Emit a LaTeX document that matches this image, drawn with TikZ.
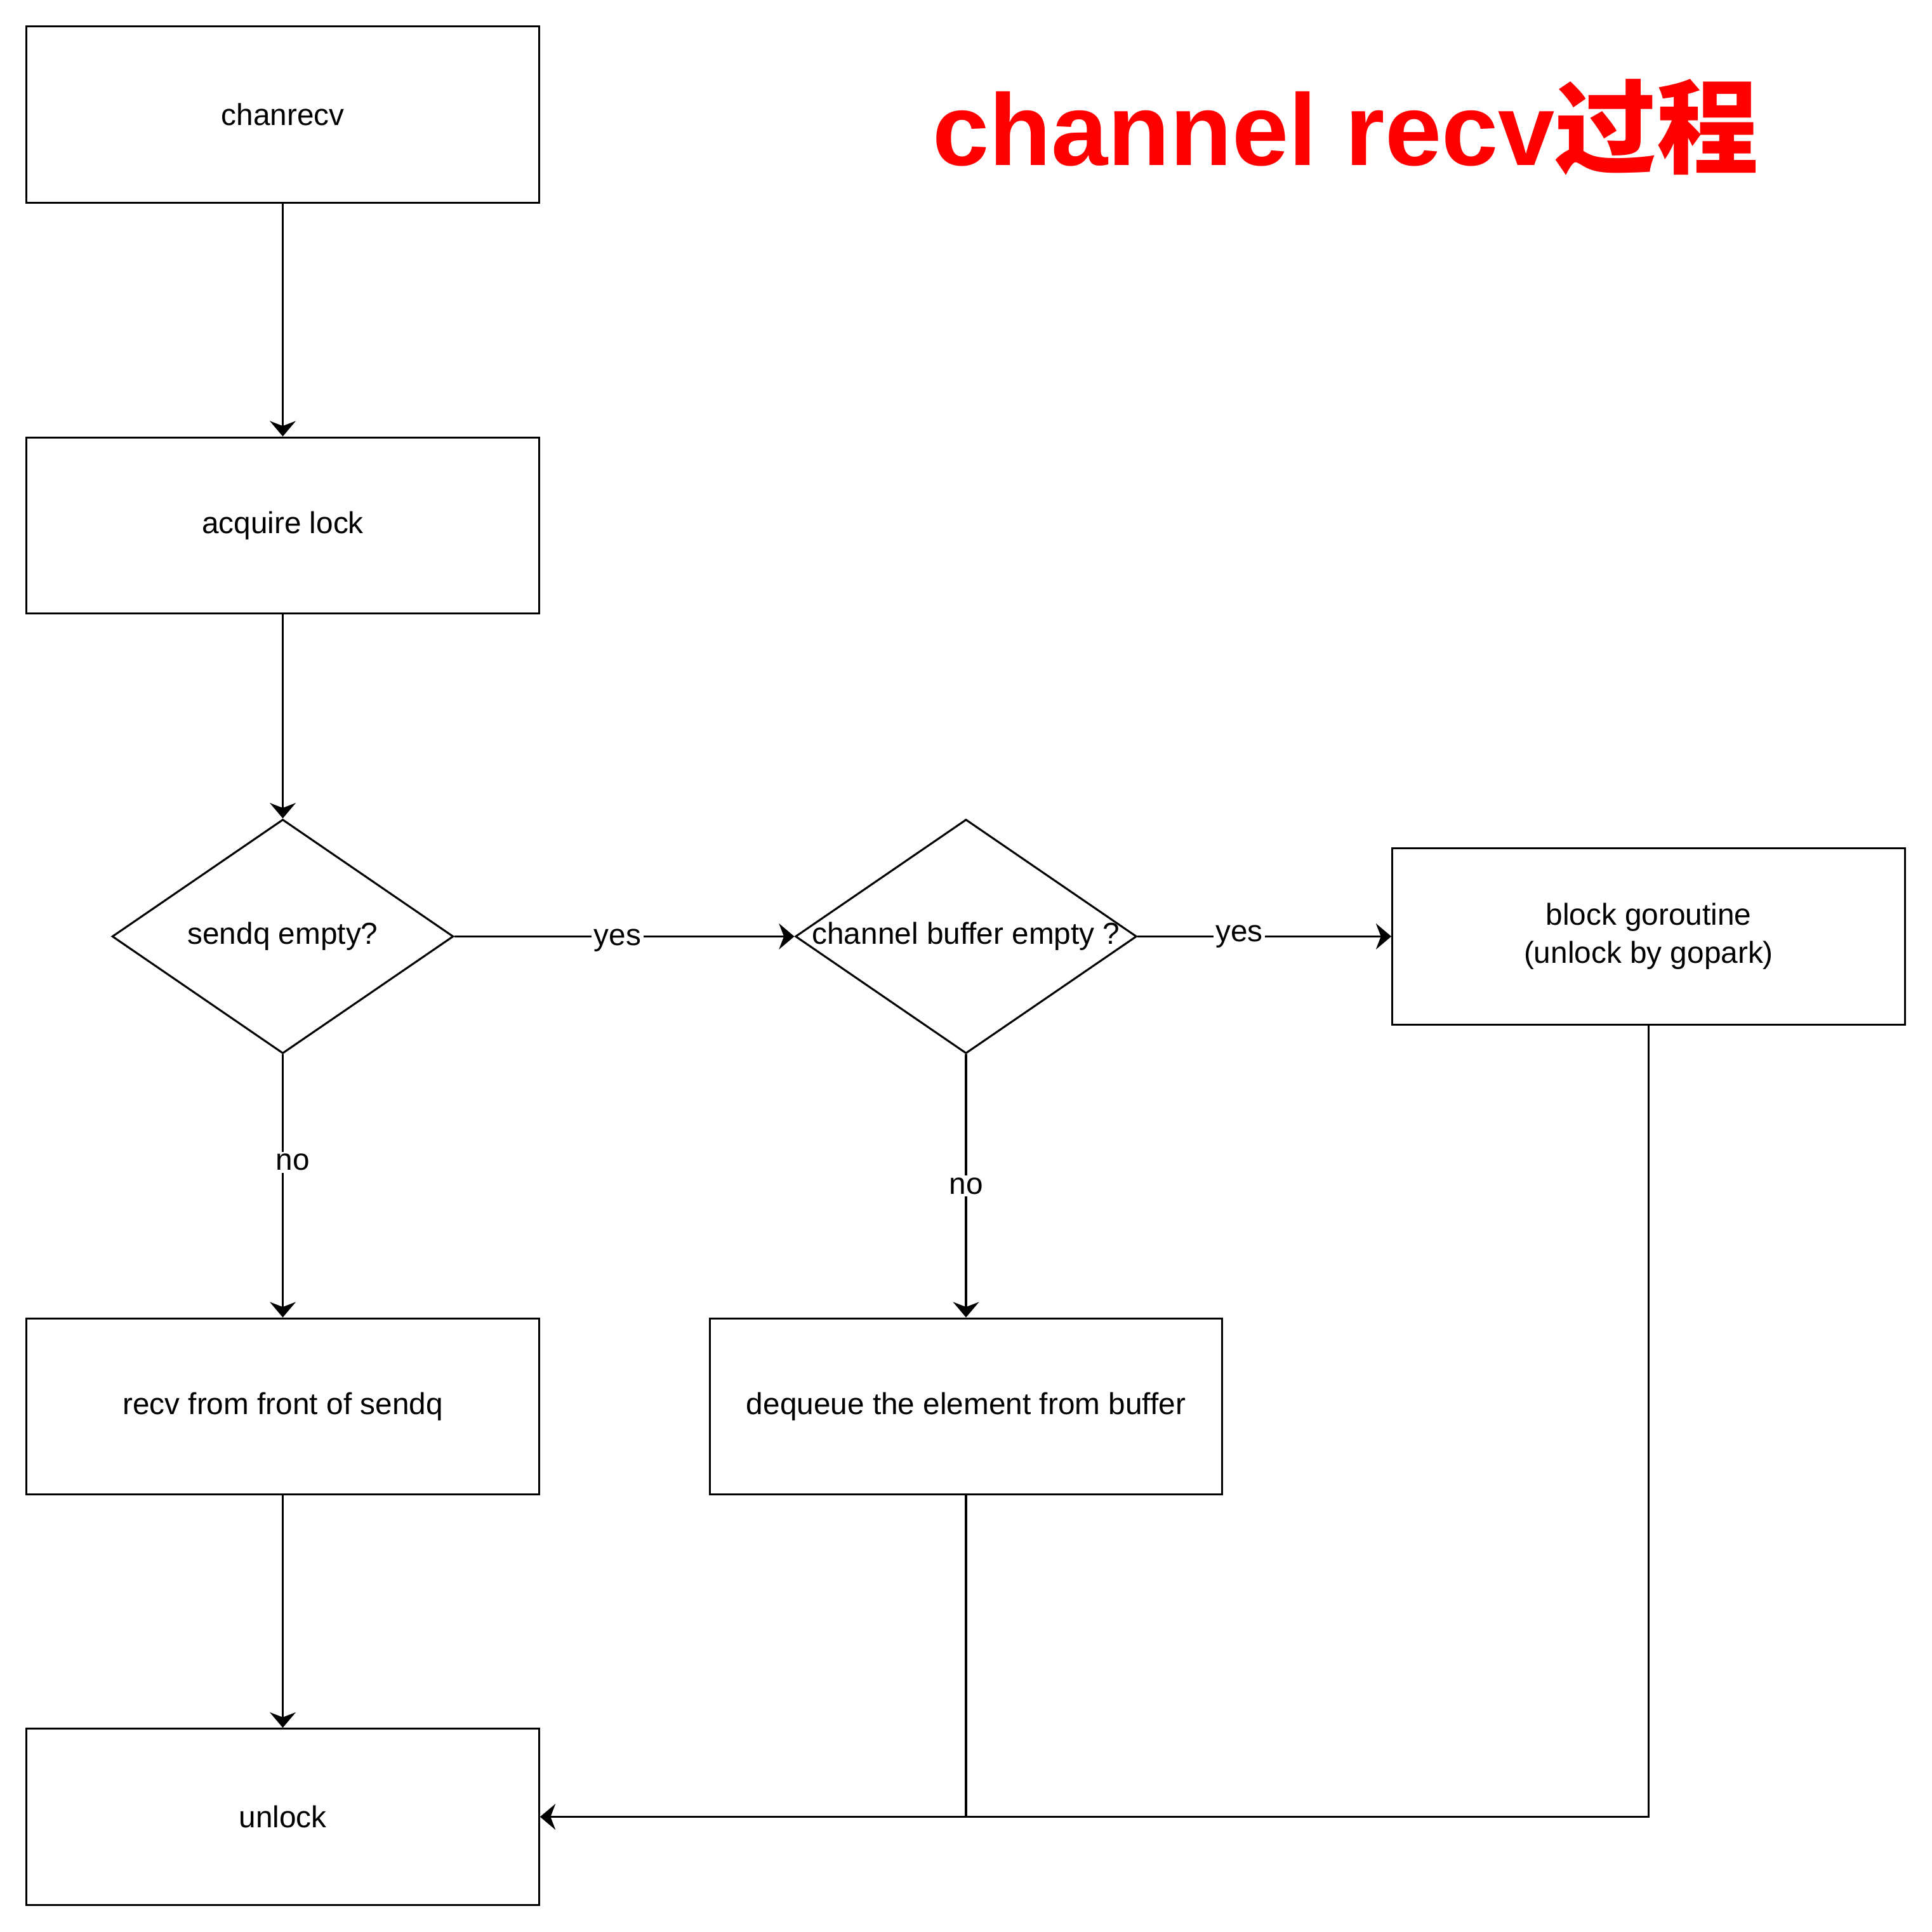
\documentclass[tikz,border=0pt]{standalone}
\usepackage{fontspec}
\setmainfont{Liberation Sans}
\newfontfamily\cjk{Noto Sans CJK SC}
\usetikzlibrary{arrows.meta,shapes.geometric}

\tikzset{
	stepbox/.style={rectangle,draw,line width=0.9pt,minimum width=83.2mm,minimum height=28.6mm,inner sep=0pt,align=center},
	decision/.style={diamond,draw,line width=0.9pt,minimum width=55.4mm,minimum height=38mm,inner sep=0pt},
	flow/.style={line width=0.9pt,-{Stealth[length=2.5mm,width=4.2mm,inset=0.8mm]}},
	answer/.style={fill=white,inner sep=1pt},
}

\begin{document}
\begin{tikzpicture}[x=0.2mm,y=-0.2mm,font=\fontsize{14}{17.6}\selectfont]
		\useasboundingbox (0,0) rectangle (1568,1568);
%		\draw[help lines,step=100] (0,0) grid (1568,1568);
		\path (229.5,93) node(chanrecv) [stepbox] {chanrecv};
		\path (229.5,426.5) node(lock) [stepbox] {acquire lock};
		\path (229.5,760) node(sendq) [decision,label=center:{sendq empty?}] {};
		\path (784,760) node(buffer) [decision,label=center:{channel buffer empty ?}] {};
		\path (1338,760) node(block) [stepbox] {block goroutine\\(unlock by gopark)};
		\path (229.5,1141.5) node(front) [stepbox] {recv from front of sendq};
		\path (784,1141.5) node(dequeue) [stepbox] {dequeue the element from buffer};
		\path (229.5,1474.5) node(unlock) [stepbox] {unlock};
		\path (1092,103) node(title) [text=red,font=\fontsize{47}{56}\selectfont\bfseries] {channel recv{\cjk 过程}};

		\draw[flow] (chanrecv) -- (lock);
		\draw[flow] (lock) -- (sendq);
		\draw[flow] (sendq) -- node[answer,pos=0.48,yshift=-0.6mm] {yes} (buffer);
		\draw[flow] (buffer) -- node[answer,pos=0.4] {yes} (block);
		\draw[flow] (sendq) -- node[answer,pos=0.41,xshift=1.6mm] {no} (front);
		\draw[flow] (buffer) -- node[answer] {no} (dequeue);
		\draw[flow] (front) -- (unlock);
		\draw[flow] (block.south) |- (unlock.east);
		\draw[line width=0.9pt] (dequeue.south) -- (dequeue.south |- unlock.east);
	\end{tikzpicture}
\end{document}
